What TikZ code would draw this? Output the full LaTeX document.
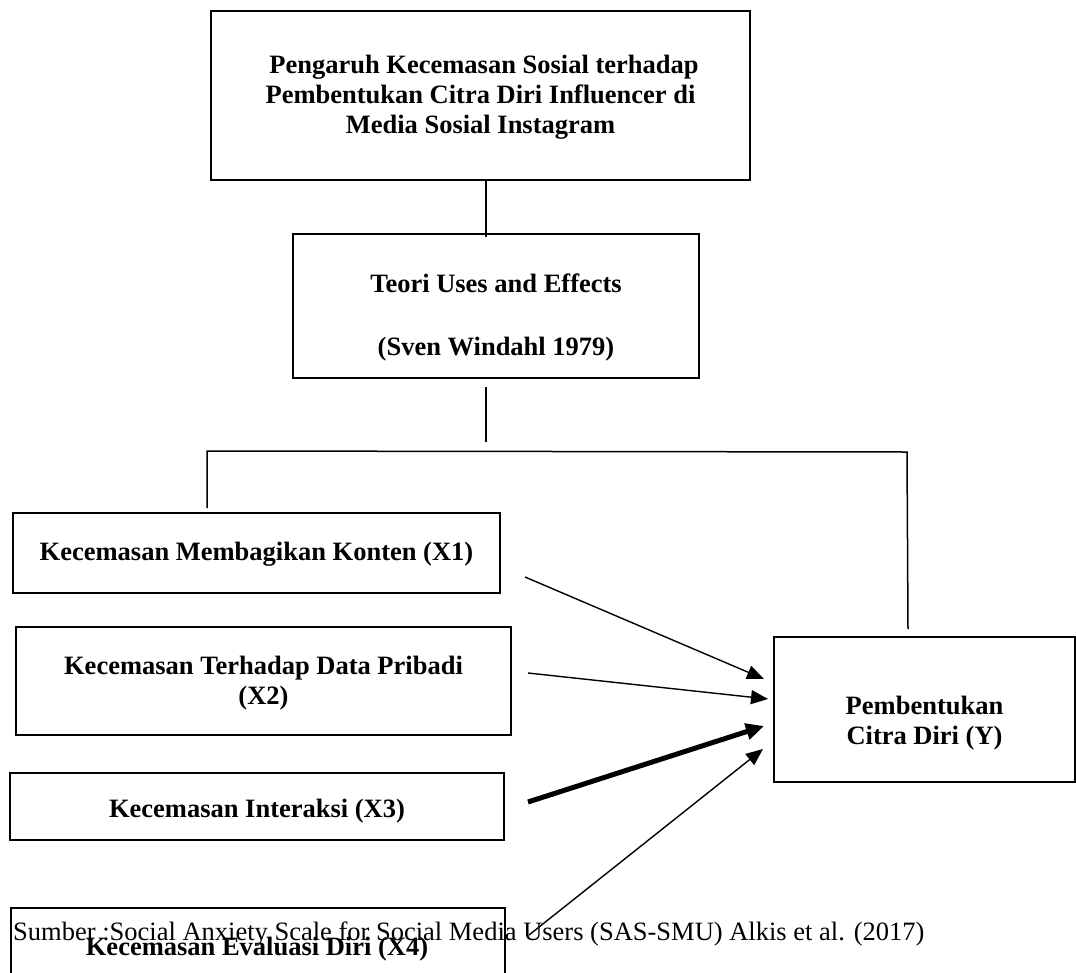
\documentclass[tikz,border=0pt]{standalone}
\usepackage{fontspec}
\setmainfont{Liberation Serif}
\usetikzlibrary{arrows.meta}
\begin{document}
\begin{tikzpicture}[x=1pt,y=-1pt,
  box/.style={draw=black, line width=1.6pt, inner sep=0pt, outer sep=0pt, anchor=north west},
  bt/.style={font=\fontsize{26.5}{30}\selectfont\bfseries, inner sep=0pt, anchor=base},
  nt/.style={font=\fontsize{26.5}{30}\selectfont, inner sep=0pt, anchor=base west},
  conn/.style={draw=black, line width=1.5pt},
  arr/.style={draw=black, line width=1.4pt, -{Triangle[length=17pt,width=14pt]}},
  thickarr/.style={draw=black, line width=5pt, -{Triangle[length=18pt,width=16pt]}}
]
\useasboundingbox (0,0) rectangle (1076,972);
\clip (0,0) rectangle (1076,972);

% boxes
\node[box, minimum width=539pt, minimum height=169pt] (top) at (211,11) {};
\node[box, minimum width=406pt, minimum height=144pt] (mid) at (293,234) {};
\node[box, minimum width=487pt, minimum height=80pt]  (xa) at (13,513) {};
\node[box, minimum width=495pt, minimum height=108pt] (xb) at (16,627) {};
\node[box, minimum width=494pt, minimum height=67pt]  (xc) at (10,773) {};
\node[box, minimum width=494pt, minimum height=100pt] (xd) at (11,908) {};
\node[box, minimum width=301pt, minimum height=145pt] (yb) at (774,637) {};

% texts
\node[bt] (t1) at (484,73) {Pengaruh Kecemasan Sosial terhadap};
\node[bt] (t2) at (480.5,103) {Pembentukan Citra Diri Influencer di};
\node[bt] (t3) at (480.5,133) {Media Sosial Instagram};
\node[bt] (m1) at (496,292) {Teori Uses and Effects};
\node[bt] (m2) at (496,355) {(Sven Windahl 1979)};
\node[bt] (xat) at (256.5,560) {Kecemasan Membagikan Konten (X1)};
\node[bt] (xbt1) at (263.5,674) {Kecemasan Terhadap Data Pribadi};
\node[bt] (xbt2) at (263.5,704) {(X2)};
\node[bt] (xct) at (257,817) {Kecemasan Interaksi (X3)};
\node[bt] (xdt) at (257,955) {Kecemasan Evaluasi Diri (X4)};
\node[bt] (yt1) at (924.5,714) {Pembentukan};
\node[bt] (yt2) at (924.5,744) {Citra Diri (Y)};
\node[nt] (src) at (13,940) {Sumber :Social Anxiety Scale for Social Media Users (SAS-SMU) Alkis et al. (2017)};

% connector coordinates
\coordinate (spine) at (486,0);
\coordinate (s1) at (486,387);
\coordinate (s2) at (486,442);
\coordinate (bl) at (207,451);
\coordinate (br) at (907,452);
\coordinate (bla) at (207,508);
\coordinate (bra) at (908,629);

\draw[conn] (top.south -| spine) -- ([yshift=-3pt]mid.north -| spine);
\draw[conn] (s1) -- (s2);
\draw[conn] (bla) -- (bl) -- (br) -- (bra);

% arrows
\coordinate (a1s) at (525,577);
\coordinate (a1e) at (764,679);
\coordinate (a2s) at (528,673);
\coordinate (a2e) at (768,699);
\coordinate (a3s) at (528,802);
\coordinate (a3e) at (764,726);
\coordinate (a4s) at (529,935);
\coordinate (a4e) at (763,749);
\draw[arr] (a1s) -- (a1e);
\draw[arr] (a2s) -- (a2e);
\draw[thickarr] (a3s) -- (a3e);
\draw[arr] (a4s) -- (a4e);
\end{tikzpicture}
\end{document}
